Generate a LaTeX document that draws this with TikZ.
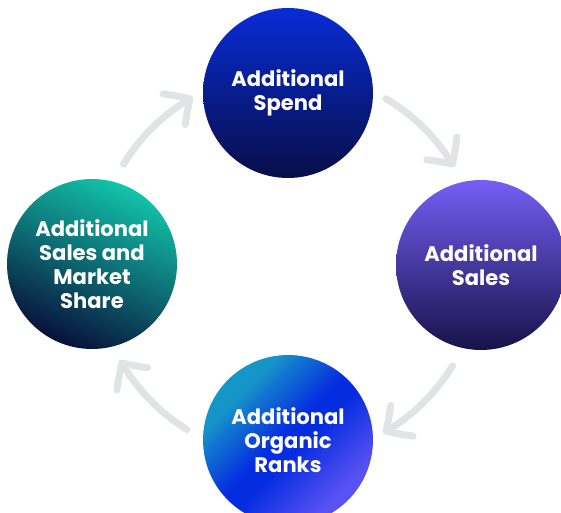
\documentclass[tikz,border=0pt]{standalone}
\usepackage{fontspec}
\setmainfont{Poppins}
\usepackage{tikz}
\usetikzlibrary{calc,arrows.meta,bending}

\definecolor{loopgray}{RGB}{225,228,230}
\definecolor{spendtop}{RGB}{8,44,214}
\definecolor{spendbot}{RGB}{8,14,72}
\definecolor{salestop}{RGB}{118,94,246}
\definecolor{salesbot}{RGB}{22,18,72}
\definecolor{sharetop}{RGB}{18,196,170}
\definecolor{sharebot}{RGB}{8,16,58}
\definecolor{rankleft}{RGB}{22,150,200}
\definecolor{rankmid}{RGB}{6,44,224}
\definecolor{rankright}{RGB}{88,82,242}

\pgfdeclarehorizontalshading{rankshade}{100bp}{color(0bp)=(rankleft); color(30bp)=(rankleft);
  color(48bp)=(rankmid); color(54bp)=(rankmid); color(72bp)=(rankright); color(100bp)=(rankright)}

\tikzset{
  bubble/.style={circle,minimum size=3.4cm,inner sep=0pt,text=white,align=center,
    font=\bfseries\fontsize{12}{13.7}\selectfont},
  loop arrow/.style={draw=loopgray,line width=0.14cm,line cap=round,
    -{Straight Barb[length=3.8mm,width=7.6mm,round,bend]}}
}

\begin{document}
\begin{tikzpicture}[x=0.02cm,y=0.02cm]
  \useasboundingbox (0,0) rectangle (561,512);
  \coordinate (hub) at (288,247);
  \node[bubble,top color=spendtop,bottom color=spendbot] (spend) at (288,419) {Additional\\Spend};
  \node[bubble,top color=salestop,bottom color=salesbot] (sales) at (481,247) {Additional\\Sales};
  \node[bubble,shade,shading=rankshade,shading angle=-45] (ranks) at (288,72) {Additional\\Organic\\Ranks};
  \node[bubble,top color=sharetop,bottom color=sharebot,shading angle=-25] (share) at (92,248) {Additional\\Sales and\\Market\\Share};
  \foreach \a in {45,134,-46,224}
    \draw[loop arrow] ($(hub)+(\a+14.5:193)$) arc[start angle=\a+14.5,end angle=\a-14.5,radius=193];
\end{tikzpicture}
\end{document}
